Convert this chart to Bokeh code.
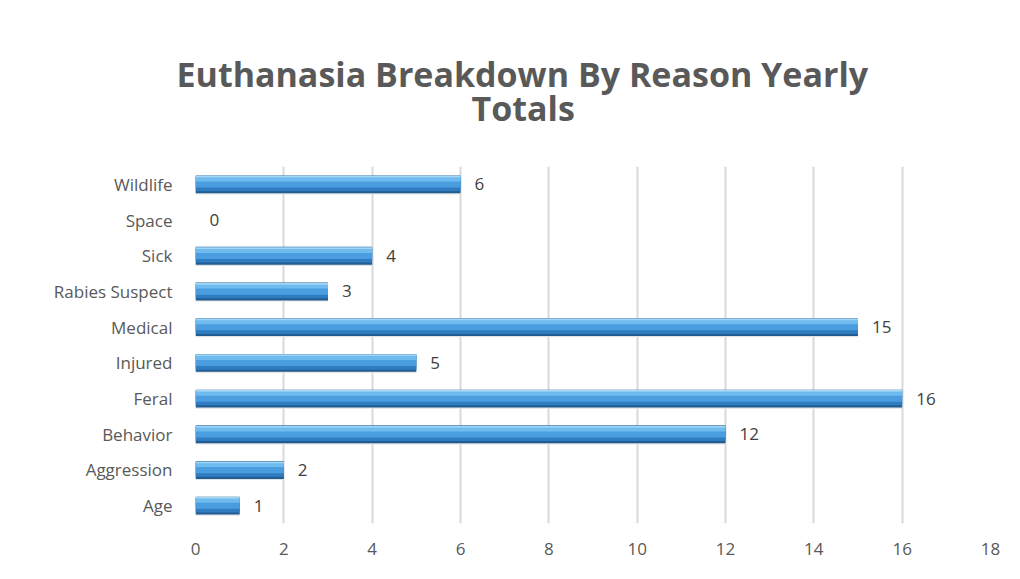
from bokeh.plotting import figure
from bokeh.models import ColumnDataSource, FactorRange, Range1d, Title, FixedTicker
from bokeh.transform import dodge
from bokeh.core.properties import value
from bokeh.embed import file_html
from bokeh.resources import INLINE

categories = ["Age", "Aggression", "Behavior", "Feral", "Injured", "Medical",
              "Rabies Suspect", "Sick", "Space", "Wildlife"]
counts = [1, 2, 12, 16, 5, 15, 3, 4, 0, 6]
x_ticks = [0, 2, 4, 6, 8, 10, 12, 14, 16, 18]
title_lines = ["Euthanasia  Breakdown By Reason Yearly", "Totals"]

src = ColumnDataSource(dict(cat=categories, val=counts, lbl=[str(v) for v in counts]))

FONT = "Open Sans"
GREY = "#595959"

p = figure(width=1004, height=563, y_range=FactorRange(*categories, range_padding=0),
           x_range=Range1d(0, 18), output_backend="svg", toolbar_location=None,
           min_border_left=195, min_border_right=14, min_border_bottom=40, min_border_top=166)
p.title.text = ""
p.title.visible = False

# inner line first (closest to the frame), then the outer line
p.add_layout(Title(text=title_lines[1], align="left", offset=276, standoff=72,
                   text_font=FONT, text_font_size="34px", text_font_style="bold",
                   text_color=GREY), "above")
p.add_layout(Title(text=title_lines[0], align="left", offset=-19, standoff=-100,
                   text_font=FONT, text_font_size="34px", text_font_style="bold",
                   text_color=GREY), "above")

# bars: layered to mimic the glossy 3D style
p.hbar(y=dodge("cat", -0.035, range=p.y_range), right="val", left=0, height=0.50,
       source=src, fill_color="#E3E3E3", line_color=None)
p.hbar(y=dodge("cat", 0.0, range=p.y_range), right="val", left=0, height=0.50,
       source=src, fill_color="#215C93", line_color=None)
p.hbar(y=dodge("cat", 0.02, range=p.y_range), right="val", left=0, height=0.42,
       source=src, fill_color="#2F7DC0", line_color=None)
p.hbar(y=dodge("cat", 0.06, range=p.y_range), right="val", left=0, height=0.30,
       source=src, fill_color="#4A9EDF", line_color=None)
p.hbar(y=dodge("cat", 0.14, range=p.y_range), right="val", left=0, height=0.12,
       source=src, fill_color="#6FBAEE", line_color=None)
p.hbar(y=dodge("cat", 0.215, range=p.y_range), right="val", left=0, height=0.05,
       source=src, fill_color="#A2D6F6", line_color=None)

p.text(x="val", y="cat", text="lbl", source=src, x_offset=14,
       text_align="left", text_baseline="middle",
       text_font=value(FONT), text_font_size="17px", text_color="#404040")

p.xaxis.ticker = FixedTicker(ticks=x_ticks)
p.xgrid.ticker = FixedTicker(ticks=x_ticks)
p.xgrid.grid_line_color = "#D9D9D9"
p.xgrid.grid_line_width = 2
p.ygrid.grid_line_color = None
p.outline_line_color = None

for ax in (p.xaxis, p.yaxis):
    ax.axis_line_color = None
    ax.major_tick_line_color = None
    ax.minor_tick_line_color = None
    ax.major_label_text_font = FONT
    ax.major_label_text_font_size = "17px"
    ax.major_label_text_color = GREY
p.xaxis.major_label_standoff = 13
p.yaxis.major_label_standoff = 17

p.background_fill_color = "white"
p.border_fill_color = "white"

open("out.html", "w").write(file_html(p, INLINE))
